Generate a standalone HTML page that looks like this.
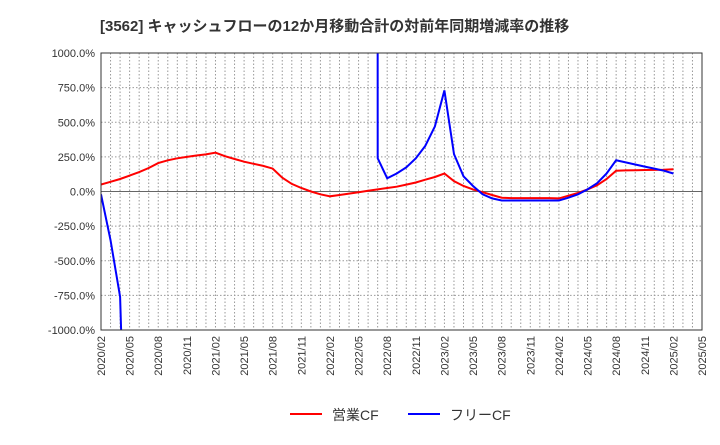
<!DOCTYPE html>
<html><head><meta charset="utf-8"><style>
body{margin:0;background:#fff;font-family:"Liberation Sans","Noto Sans CJK JP",sans-serif;}
</style></head><body>
<svg width="720" height="440" xmlns="http://www.w3.org/2000/svg" font-family="Liberation Sans, Noto Sans CJK JP, sans-serif">
<text x="100" y="31" font-size="15" font-weight="bold" fill="#333">[3562]  キャッシュフローの12か月移動合計の対前年同期増減率の推移</text>
<defs><clipPath id="pc"><rect x="101" y="53" width="601" height="277"/></clipPath></defs>
<g id="grid"></g>
<g id="series" clip-path="url(#pc)"></g>
<rect x="101" y="53" width="601" height="277" fill="none" stroke="#333" stroke-width="1"/>
<g id="axes"></g>
<g>
<line x1="290" y1="414" x2="322" y2="414" stroke="#f00" stroke-width="2"/>
<text x="332" y="420" font-size="14" fill="#333">営業CF</text>
<line x1="408" y1="414" x2="440" y2="414" stroke="#00f" stroke-width="2"/>
<text x="450" y="420" font-size="14" fill="#333">フリーCF</text>
</g>
</svg>
<script>
const yTicks=[1000,750,500,250,0,-250,-500,-750,-1000];
const yTickLabels=["1000.0%","750.0%","500.0%","250.0%","0.0%","-250.0%","-500.0%","-750.0%","-1000.0%"];
const xTickLabels=["2020/02","2020/05","2020/08","2020/11","2021/02","2021/05","2021/08","2021/11","2022/02","2022/05","2022/08","2022/11","2023/02","2023/05","2023/08","2023/11","2024/02","2024/05","2024/08","2024/11","2025/02","2025/05"];
// monthly, index 0 = 2020/02 ... index 60 = 2025/02
const operatingCF=[50,70,90,115,140,170,205,225,240,250,260,268,280,255,235,215,200,185,165,100,55,25,0,-20,-35,-25,-15,-5,5,15,25,35,50,65,85,105,130,75,40,15,-5,-25,-45,-48,-48,-48,-48,-48,-50,-30,-10,15,45,90,150,152,154,155,156,157,160];
const freeCF=[-20,-350,-760,-3000,null,null,null,null,null,null,null,null,null,null,null,null,null,null,null,null,null,null,null,null,null,null,null,null,200000,240,95,130,175,240,330,470,730,270,110,40,-20,-50,-65,-65,-65,-65,-65,-65,-65,-45,-20,15,60,130,225,210,195,180,165,150,130];
const ns="http://www.w3.org/2000/svg";
const X0=101,X1=702,Y0=53,Y1=330,MONTHS=63;
const xs=i=>X0+i*(X1-X0)/MONTHS;
const ys=v=>Y0+(1000-v)*(Y1-Y0)/2000;
const grid=document.getElementById('grid'),axes=document.getElementById('axes'),ser=document.getElementById('series');
function mk(tag,attrs,parent){const e=document.createElementNS(ns,tag);for(const k in attrs)e.setAttribute(k,attrs[k]);parent.appendChild(e);return e;}
for(let m=1;m<MONTHS;m++){const l=mk('line',{x1:xs(m),x2:xs(m),y1:Y0,y2:Y1,stroke:'#999','stroke-dasharray':'1.5,2'},grid);

}
yTicks.forEach((v,i)=>{const l=mk('line',{x1:X0,x2:X1,y1:ys(v),y2:ys(v),stroke:v===0?'#666':'#999','stroke-dasharray':v===0?'':'1.5,2'},grid);


const t=mk('text',{x:X0-6,y:ys(v)+4,'text-anchor':'end','font-size':'11',fill:'#333'},axes);
t.textContent=yTickLabels[i];

});
xTickLabels.forEach((s,i)=>{const x=xs(i*3);const t=mk('text',{x:x+4,y:Y1+6,'text-anchor':'end','font-size':'11',fill:'#333',transform:`rotate(-90 ${x+4} ${Y1+6})`},axes);
t.textContent=s;

});
function draw(data,color,name){let d='',pen=false;data.forEach((v,i)=>{if(v===null){pen=false;return;}d+=(pen?'L':'M')+xs(i).toFixed(1)+','+ys(v).toFixed(1);pen=true;});
const p=mk('path',{d:d,fill:'none',stroke:color,'stroke-width':2},ser);

}
draw(operatingCF,'#f00','operating-cf-line');
draw(freeCF,'#00f','free-cf-line');
</script>
</body></html>
